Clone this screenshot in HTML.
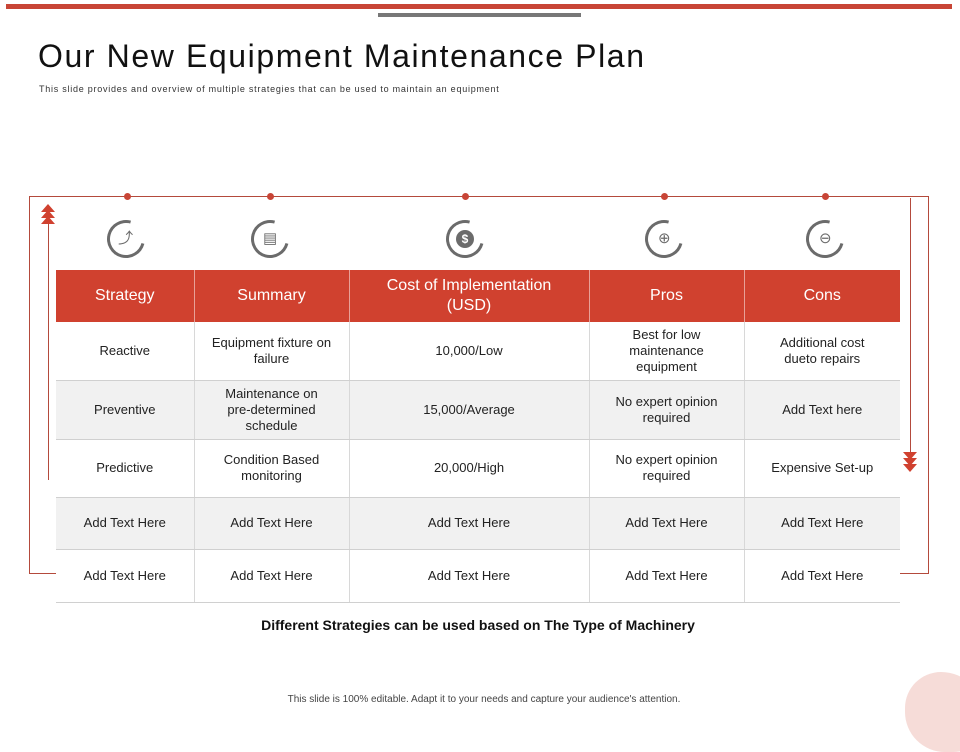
<!DOCTYPE html>
<html><head><meta charset="utf-8"><style>
*{margin:0;padding:0;box-sizing:border-box}
html,body{width:960px;height:720px}
body{position:relative;background:#fff;font-family:"Liberation Sans",sans-serif;overflow:hidden;color:#222}
.a{position:absolute}
table{position:absolute;left:56px;top:270px;border-collapse:collapse;width:844px;font-size:13px;text-align:center}
td{border-right:1px solid #d8d8d8;border-bottom:1px solid #d0d0d0;line-height:16px;color:#222}
td:last-child{border-right:none}
th{background:#d0412f;color:#fff;font-weight:normal;font-size:16px;height:52px;border-right:1px solid #e8a097;line-height:20px}
th:last-child{border-right:none}
tr.g td{background:#f1f1f1}
.icon{position:absolute;width:38px;height:38px;top:220px;border:3px solid #6b6b6b;border-radius:50%;border-right-color:transparent;color:#6b6b6b;font-size:15px;text-align:center;line-height:32px;transform:rotate(-30deg)}
.icon span{display:inline-block;transform:rotate(30deg)}
.dot{position:absolute;top:193px;width:7px;height:7px;border-radius:50%;background:#c84536}
.chev{position:absolute;width:0;height:0;border-left:7px solid transparent;border-right:7px solid transparent}
</style></head><body>
<div class="a" style="left:6px;top:4px;width:946px;height:5px;background:#c84536"></div>
<div class="a" style="left:378px;top:13px;width:203px;height:4px;background:#777"></div>
<div class="a" style="left:38px;top:38px;font-size:32px;color:#111;letter-spacing:1.6px;white-space:nowrap">Our New Equipment Maintenance Plan</div>
<div class="a" style="left:39px;top:84px;font-size:9px;color:#333;letter-spacing:0.75px;white-space:nowrap">This slide provides and overview of multiple strategies that can be used to maintain an equipment</div>

<div class="a" style="left:29px;top:196px;width:900px;height:377px;border:1px solid #b44a3c;border-bottom:none"></div>
<div class="a" style="left:29px;top:573px;width:27px;height:1px;background:#b44a3c"></div>
<div class="a" style="left:900px;top:573px;width:29px;height:1px;background:#b44a3c"></div>
<div class="a" style="left:30px;top:574px;width:870px;height:30px;background:#fff"></div>
<div class="a" style="left:48px;top:215px;width:1px;height:265px;background:#b44a3c"></div>
<div class="chev" style="left:41px;top:204px;border-bottom:8px solid #d0412f"></div>
<div class="chev" style="left:41px;top:210px;border-bottom:8px solid #d0412f"></div>
<div class="chev" style="left:41px;top:216px;border-bottom:8px solid #d0412f"></div>
<div class="a" style="left:910px;top:198px;width:1px;height:255px;background:#b44a3c"></div>
<div class="chev" style="left:903px;top:452px;border-top:8px solid #d0412f"></div>
<div class="chev" style="left:903px;top:458px;border-top:8px solid #d0412f"></div>
<div class="chev" style="left:903px;top:464px;border-top:8px solid #d0412f"></div>

<div class="dot" style="left:124px"></div><div class="dot" style="left:267px"></div><div class="dot" style="left:462px"></div><div class="dot" style="left:661px"></div><div class="dot" style="left:822px"></div>
<div class="icon" style="left:107px"><span>⤴</span></div>
<div class="icon" style="left:251px"><span>▤</span></div>
<div class="icon" style="left:446px"><span style="background:#6b6b6b;color:#fff;border-radius:50%;width:18px;height:18px;line-height:18px;font-size:12px;font-weight:bold">$</span></div>
<div class="icon" style="left:645px"><span>⊕</span></div>
<div class="icon" style="left:806px"><span>⊖</span></div>

<table>
<tr><th style="width:138px">Strategy</th><th style="width:155px">Summary</th><th style="width:240px">Cost of Implementation<br>(USD)</th><th style="width:155px">Pros</th><th style="width:156px">Cons</th></tr>
<tr style="height:58px"><td>Reactive</td><td>Equipment fixture on<br>failure</td><td>10,000/Low</td><td>Best for low<br>maintenance<br>equipment</td><td>Additional cost<br>dueto repairs</td></tr>
<tr class="g" style="height:59px"><td>Preventive</td><td>Maintenance on<br>pre-determined<br>schedule</td><td>15,000/Average</td><td>No expert opinion<br>required</td><td>Add Text here</td></tr>
<tr style="height:58px"><td>Predictive</td><td>Condition Based<br>monitoring</td><td>20,000/High</td><td>No expert opinion<br>required</td><td>Expensive Set-up</td></tr>
<tr class="g" style="height:52px"><td>Add Text Here</td><td>Add Text Here</td><td>Add Text Here</td><td>Add Text Here</td><td>Add Text Here</td></tr>
<tr style="height:53px"><td>Add Text Here</td><td>Add Text Here</td><td>Add Text Here</td><td>Add Text Here</td><td>Add Text Here</td></tr>
</table>

<div class="a" style="left:0;width:956px;top:617px;text-align:center;font-size:14px;font-weight:bold;color:#111">Different Strategies can be used based on The Type of Machinery</div>
<div class="a" style="left:0;width:968px;top:694px;text-align:center;font-size:10px;color:#444">This slide is 100% editable. Adapt it to your needs and capture your audience's attention.</div>
<div class="a" style="left:905px;top:672px;width:80px;height:80px;border-radius:45% 55% 40% 50%;background:#f6dcd8"></div>
</body></html>
